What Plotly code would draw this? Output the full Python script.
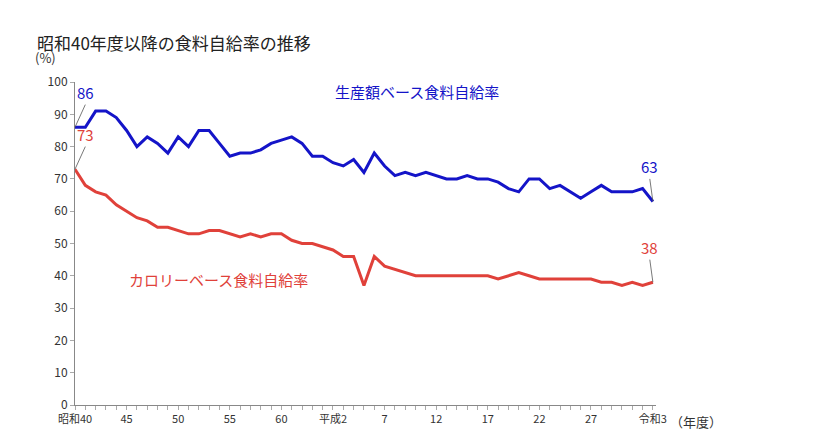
import plotly.graph_objects as go

years = list(range(1965, 2022))
production = [86, 86, 91, 91, 89, 85, 80, 83, 81, 78, 83, 80, 85, 85, 81, 77, 78, 78, 79, 81,
              82, 83, 81, 77, 77, 75, 74, 76, 72, 78, 74, 71, 72, 71, 72, 71, 70, 70, 71, 70,
              70, 69, 67, 66, 70, 70, 67, 68, 66, 64, 66, 68, 66, 66, 66, 67, 63]
calorie = [73, 68, 66, 65, 62, 60, 58, 57, 55, 55, 54, 53, 53, 54, 54, 53, 52, 53, 52, 53,
           53, 51, 50, 50, 49, 48, 46, 46, 37, 46, 43, 42, 41, 40, 40, 40, 40, 40, 40, 40,
           40, 39, 40, 41, 40, 39, 39, 39, 39, 39, 39, 38, 38, 37, 38, 37, 38]
tick_years = [1965, 1970, 1975, 1980, 1985, 1990, 1995, 2000, 2005, 2010, 2015, 2021]
tick_text = ["昭和40", "45", "50", "55", "60", "平成2", "7", "12", "17", "22", "27", "令和3"]

blue = "#1414c8"
red = "#e0413a"
font = "Noto Sans CJK JP"

fig = go.Figure()
fig.add_trace(go.Scatter(x=years, y=production, mode="lines", line=dict(color=blue, width=3)))
fig.add_trace(go.Scatter(x=years, y=calorie, mode="lines", line=dict(color=red, width=3)))

fig.update_layout(
    width=828, height=430,
    margin=dict(l=67, r=180, t=74, b=30),
    plot_bgcolor="white", paper_bgcolor="white",
    showlegend=False,
    font=dict(family=font, size=12, color="#333"),
    title=dict(text="昭和40年度以降の食料自給率の推移", x=0.035, y=0.93,
               font=dict(size=17, color="#222")),
)
fig.update_xaxes(range=[1965, 2021.3], tickvals=tick_years, ticktext=tick_text,
                 showline=True, linecolor="#888", ticks="outside", ticklen=4,
                 tickcolor="#aaa", showgrid=False, zeroline=False, tickfont=dict(size=11),
                 minor=dict(dtick=1, tick0=1965, ticks="outside", ticklen=4, tickcolor="#aaa"))
fig.update_yaxes(range=[0, 100], dtick=10, showline=True, linecolor="#888",
                 ticks="outside", ticklen=4, tickcolor="#aaa", showgrid=False,
                 zeroline=False)

fig.add_annotation(text="(%)", xref="paper", yref="paper", x=-0.03, y=1.04,
                   xanchor="right", yanchor="bottom", showarrow=False, font=dict(size=13))
fig.add_annotation(text="（年度）", xref="paper", yref="paper", x=1.02, y=-0.05,
                   xanchor="left", yanchor="middle", showarrow=False, font=dict(size=13))
fig.add_annotation(text="生産額ベース食料自給率", x=1990, y=97, showarrow=False,
                   xanchor="left", font=dict(size=15, color=blue))
fig.add_annotation(text="カロリーベース食料自給率", x=1970, y=39, showarrow=False,
                   xanchor="left", font=dict(size=15, color=red))

ends = [(years[0], production[0], blue, -1), (years[0], calorie[0], red, -1),
        (years[-1], production[-1], blue, 1), (years[-1], calorie[-1], red, 1)]
for x, y, c, s in ends:
    fig.add_annotation(text=str(y), x=x, y=y, ax=x - s * 1.0 if s < 0 else x - 0.3, ay=y + 7,
                       axref="x", ayref="y", showarrow=True, arrowhead=0, arrowwidth=0.8,
                       arrowcolor="#555", yanchor="bottom", xanchor="center",
                       font=dict(size=15, color=c), standoff=0)

fig.write_html("out.html")
